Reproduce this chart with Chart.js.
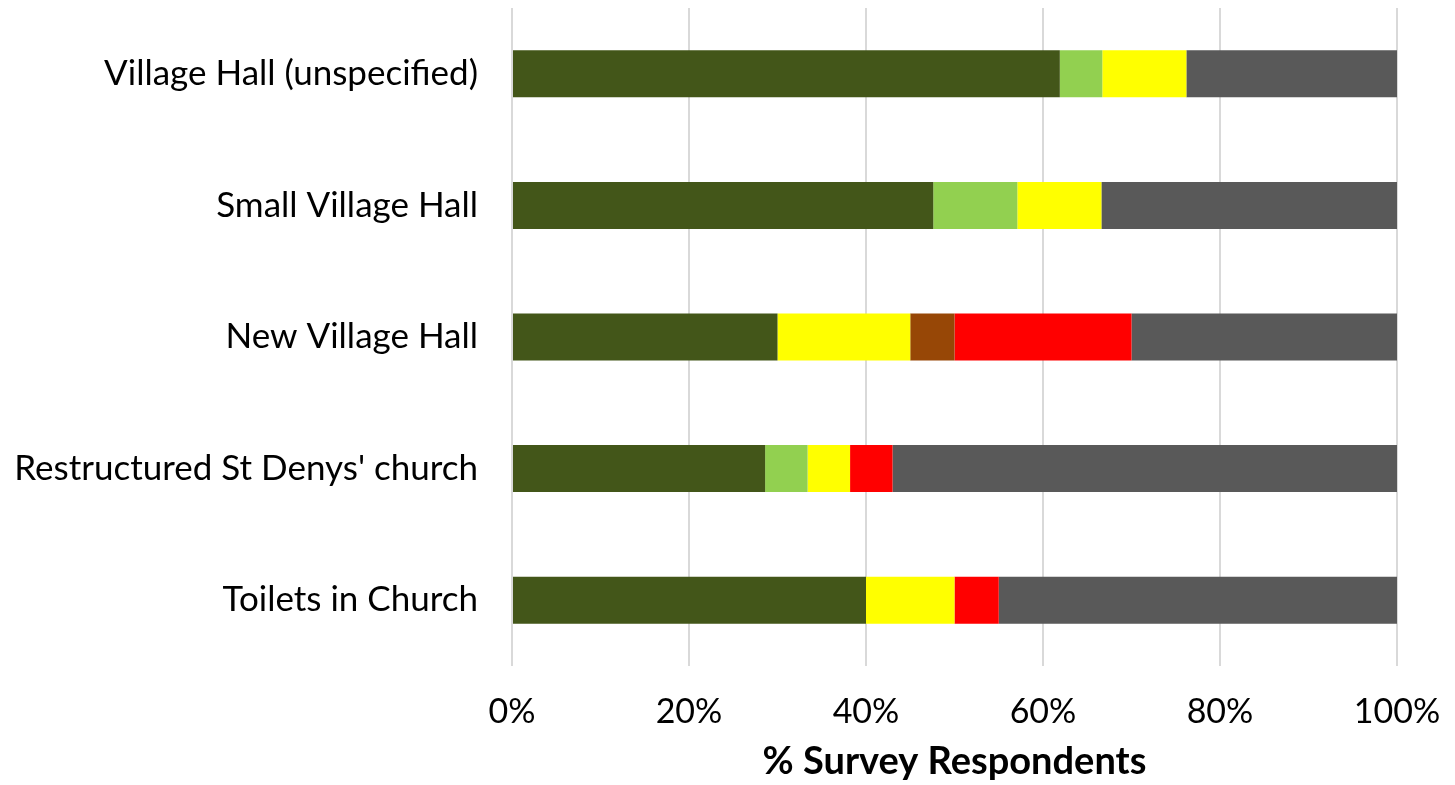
<!DOCTYPE html>
<html>
<head>
<meta charset="utf-8">
<script src="https://cdn.jsdelivr.net/npm/chart.js@4"></script>
<style>
  html, body { margin: 0; padding: 0; background: #ffffff; }
  #wrap { width: 1455px; height: 785px; }
</style>
</head>
<body>
<div id="wrap"><canvas id="chart"></canvas></div>
<script>
const categories = [
  "Village Hall (unspecified)",
  "Small Village Hall",
  "New Village Hall",
  "Restructured St Denys' church",
  "Toilets in Church",
];
const seriesNames = ["Strongly support", "Support", "Neutral", "Oppose", "Strongly oppose", "No view"];
const seriesColors = ["#435619", "#92d050", "#ffff00", "#974706", "#ff0000", "#595959"];

// % of respondents per category, one array per series
const stronglySupport = [61.9, 47.6, 30, 28.6, 40];
const support = [4.8, 9.5, 0, 4.8, 0];
const neutral = [9.5, 9.5, 15, 4.8, 10];
const oppose = [0, 0, 5, 0, 0];
const stronglyOppose = [0, 0, 20, 4.8, 5];
const noView = [23.8, 33.4, 30, 57.0, 45];

const tickValues = [0, 20, 40, 60, 80, 100];
const axisTitle = "% Survey Respondents";

const seriesValues = [stronglySupport, support, neutral, oppose, stronglyOppose, noView];

const ctx = document.getElementById("chart").getContext("2d");
new Chart(ctx, {
  type: "bar",
  data: {
    labels: categories,
    datasets: seriesValues.map((vals, i) => ({
      label: seriesNames[i],
      data: vals,
      backgroundColor: seriesColors[i],
      borderWidth: 0,
      categoryPercentage: 1,
      barPercentage: 0.357,
    })),
  },
  options: {
    indexAxis: "y",
    responsive: true,
    maintainAspectRatio: false,
    animation: false,
    layout: { padding: { top: 8, right: 58, bottom: 0, left: 0 } },
    plugins: {
      legend: { display: false },
      tooltip: { enabled: false },
    },
    scales: {
      x: {
        stacked: true,
        min: 0,
        max: 100,
        afterBuildTicks: (axis) => {
          axis.ticks = tickValues.map((v) => ({ value: v }));
        },
        afterFit: (axis) => {
          axis.height = 119;
          axis.paddingLeft = 0;
          axis.paddingRight = 0;
        },
        grid: { color: "#d9d9d9", lineWidth: 2, drawTicks: false },
        border: { display: false },
        ticks: {
          color: "#000000",
          padding: 26,
          maxRotation: 0,
          font: { family: "Lato", size: 34 },
          callback: (v) => v + "%",
        },
        title: {
          display: true,
          text: axisTitle,
          color: "#000000",
          padding: { top: 0, bottom: 0 },
          font: { family: "Lato", size: 38, weight: "bold" },
        },
      },
      y: {
        stacked: true,
        grid: { display: false, drawTicks: false },
        border: { display: false },
        afterFit: (axis) => {
          axis.width = 512;
          axis.paddingTop = 0;
          axis.paddingBottom = 0;
        },
        ticks: {
          color: "#000000",
          padding: 34,
          font: { family: "Lato", size: 35 },
        },
      },
    },
  },
});
</script>
</body>
</html>
